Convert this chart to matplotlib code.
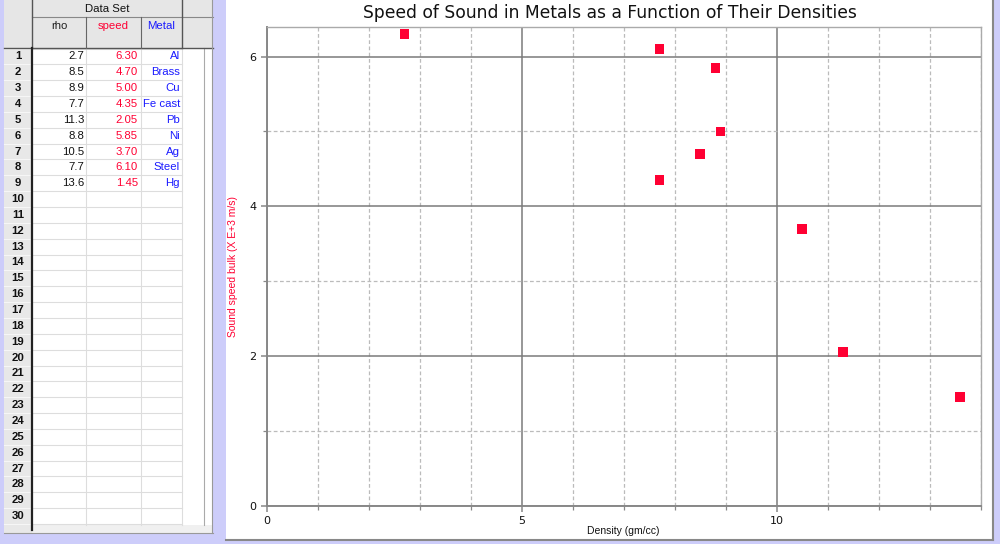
import matplotlib
matplotlib.use("Agg")
import matplotlib.pyplot as plt
from matplotlib.patches import Rectangle
from matplotlib.ticker import MultipleLocator

# ---- data ----
rho = [2.7, 8.5, 8.9, 7.7, 11.3, 8.8, 10.5, 7.7, 13.6]
speed = [6.30, 4.70, 5.00, 4.35, 2.05, 5.85, 3.70, 6.10, 1.45]
metal = ['Al', 'Brass', 'Cu', 'Fe cast', 'Pb', 'Ni', 'Ag', 'Steel', 'Hg']
col_names = ['rho', 'speed', 'Metal']
title = 'Speed of Sound in Metals as a Function of Their Densities'
xlabel = 'Density (gm/cc)'
ylabel = 'Sound speed bulk (X E+3 m/s)'

RED = '#ff0033'
BLUE = '#1a1aff'
LAV = '#cdcdfa'

fig = plt.figure(figsize=(10, 5.44), dpi=100, facecolor=LAV)

# ---- background / table drawn in pixel coordinates ----
bg = fig.add_axes([0, 0, 1, 1], zorder=0)
bg.set_xlim(0, 1000)
bg.set_ylim(544, 0)
bg.axis('off')

# table panel
bg.add_patch(Rectangle((4, 0), 209, 533, facecolor='white', edgecolor='none'))
bg.add_patch(Rectangle((4, 0), 209, 48, facecolor='#e6e6e6', edgecolor='none'))
bg.add_patch(Rectangle((4, 48), 28, 485, facecolor='#e8e8e8', edgecolor='none'))
bg.add_patch(Rectangle((32, 525), 181, 8, facecolor='#f0f0f0', edgecolor='none'))
row_h = 15.85
y0 = 48.5
nrows = 31
for k in range(nrows + 1):
    yy = y0 + k * row_h
    if yy > 525:
        break
    bg.plot([32, 182], [yy, yy], color='#dddddd', lw=0.8)
    bg.plot([4, 31], [yy, yy], color='#f6f6f6', lw=0.8)
for xx in [86, 141, 182]:
    bg.plot([xx, xx], [48, 525], color='#dddddd', lw=0.8)
bg.plot([204, 204], [48, 525], color='#aaaaaa', lw=0.8)
# header lines
bg.plot([4, 213], [48, 48], color='#555555', lw=1.0)
bg.plot([32, 213], [17, 17], color='#888888', lw=0.8)
for xx in [32, 182]:
    bg.plot([xx, xx], [0, 48], color='#555555', lw=1.0)
for xx in [86, 141]:
    bg.plot([xx, xx], [17, 48], color='#666666', lw=0.8)
bg.plot([32, 32], [48, 530], color='#222222', lw=1.6)
bg.plot([4, 213], [533, 533], color='#999999', lw=0.8)
bg.plot([212, 212], [0, 533], color='#999999', lw=0.8)

tfont = dict(family='Liberation Sans', fontsize=8.2)
bg.text(107, 9, 'Data Set', ha='center', va='center', color='#111111', **tfont)
col_x = [59, 113, 161]
col_c = ['#222222', RED, BLUE]
for cx, name, cc in zip(col_x, col_names, col_c):
    bg.text(cx, 26, name, ha='center', va='center', color=cc, **tfont)
for k in range(nrows):
    yy = y0 + (k + 0.5) * row_h
    if yy > 528:
        break
    bg.text(18, yy, str(k + 1), ha='center', va='center', color='#111111',
            fontweight='bold', **tfont)
for k in range(len(rho)):
    yy = y0 + (k + 0.5) * row_h
    bg.text(84, yy, f'{rho[k]:.1f}', ha='right', va='center', color='#111111', **tfont)
    bg.text(138, yy, f'{speed[k]:.2f}', ha='right', va='center', color=RED, **tfont)
    bg.text(180, yy, metal[k], ha='right', va='center', color=BLUE, **tfont)

# chart panel
bg.add_patch(Rectangle((226, 0), 767, 540, facecolor='white', edgecolor='none'))
bg.plot([993, 993], [0, 540], color='#888888', lw=1.5)
bg.plot([226, 993], [540, 540], color='#888888', lw=1.5)

# ---- chart ----
ax = fig.add_axes([0.2667, 1 - 505.7 / 544, 0.714, (505.7 - 26.7) / 544], zorder=2)
ax.set_facecolor('none')
ax.set_xlim(0, 14)
ax.set_ylim(0, 6.4)
ax.xaxis.set_major_locator(MultipleLocator(5))
ax.xaxis.set_minor_locator(MultipleLocator(1))
ax.yaxis.set_major_locator(MultipleLocator(2))
ax.yaxis.set_minor_locator(MultipleLocator(1))
ax.grid(which='major', color='#7a7a7a', lw=1.1, ls='-')
ax.grid(which='minor', color='#bbbbbb', lw=0.9, ls=(0, (3, 2)))
ax.set_axisbelow(True)
for s in ['left', 'bottom']:
    ax.spines[s].set_color('#888888')
    ax.spines[s].set_linewidth(1.4)
for s in ['top', 'right']:
    ax.spines[s].set_color('#aaaaaa')
    ax.spines[s].set_linewidth(1.0)
ax.tick_params(which='both', direction='out', color='#888888', labelsize=8,
               labelcolor='#111111')
ax.tick_params(which='major', length=4, width=1.1)
ax.tick_params(which='minor', length=3, width=0.9)

ax.scatter(rho, speed, marker='s', s=48, color=RED, edgecolors='none', zorder=3,
           clip_on=False)

ax.set_xlabel(xlabel, fontsize=7.5, color='#111111', family='Liberation Sans')
ax.xaxis.set_label_coords(0.5, -0.042)
ax.set_ylabel(ylabel, fontsize=7.5, color=RED, family='Liberation Sans')
ax.yaxis.set_label_coords(-0.040, 0.5)

fig.text(0.6095, 1 - 12.5 / 544, title, ha='center', va='center', fontsize=12.3,
         color='#111111')

fig.savefig('out.png', dpi=100, facecolor=LAV)
